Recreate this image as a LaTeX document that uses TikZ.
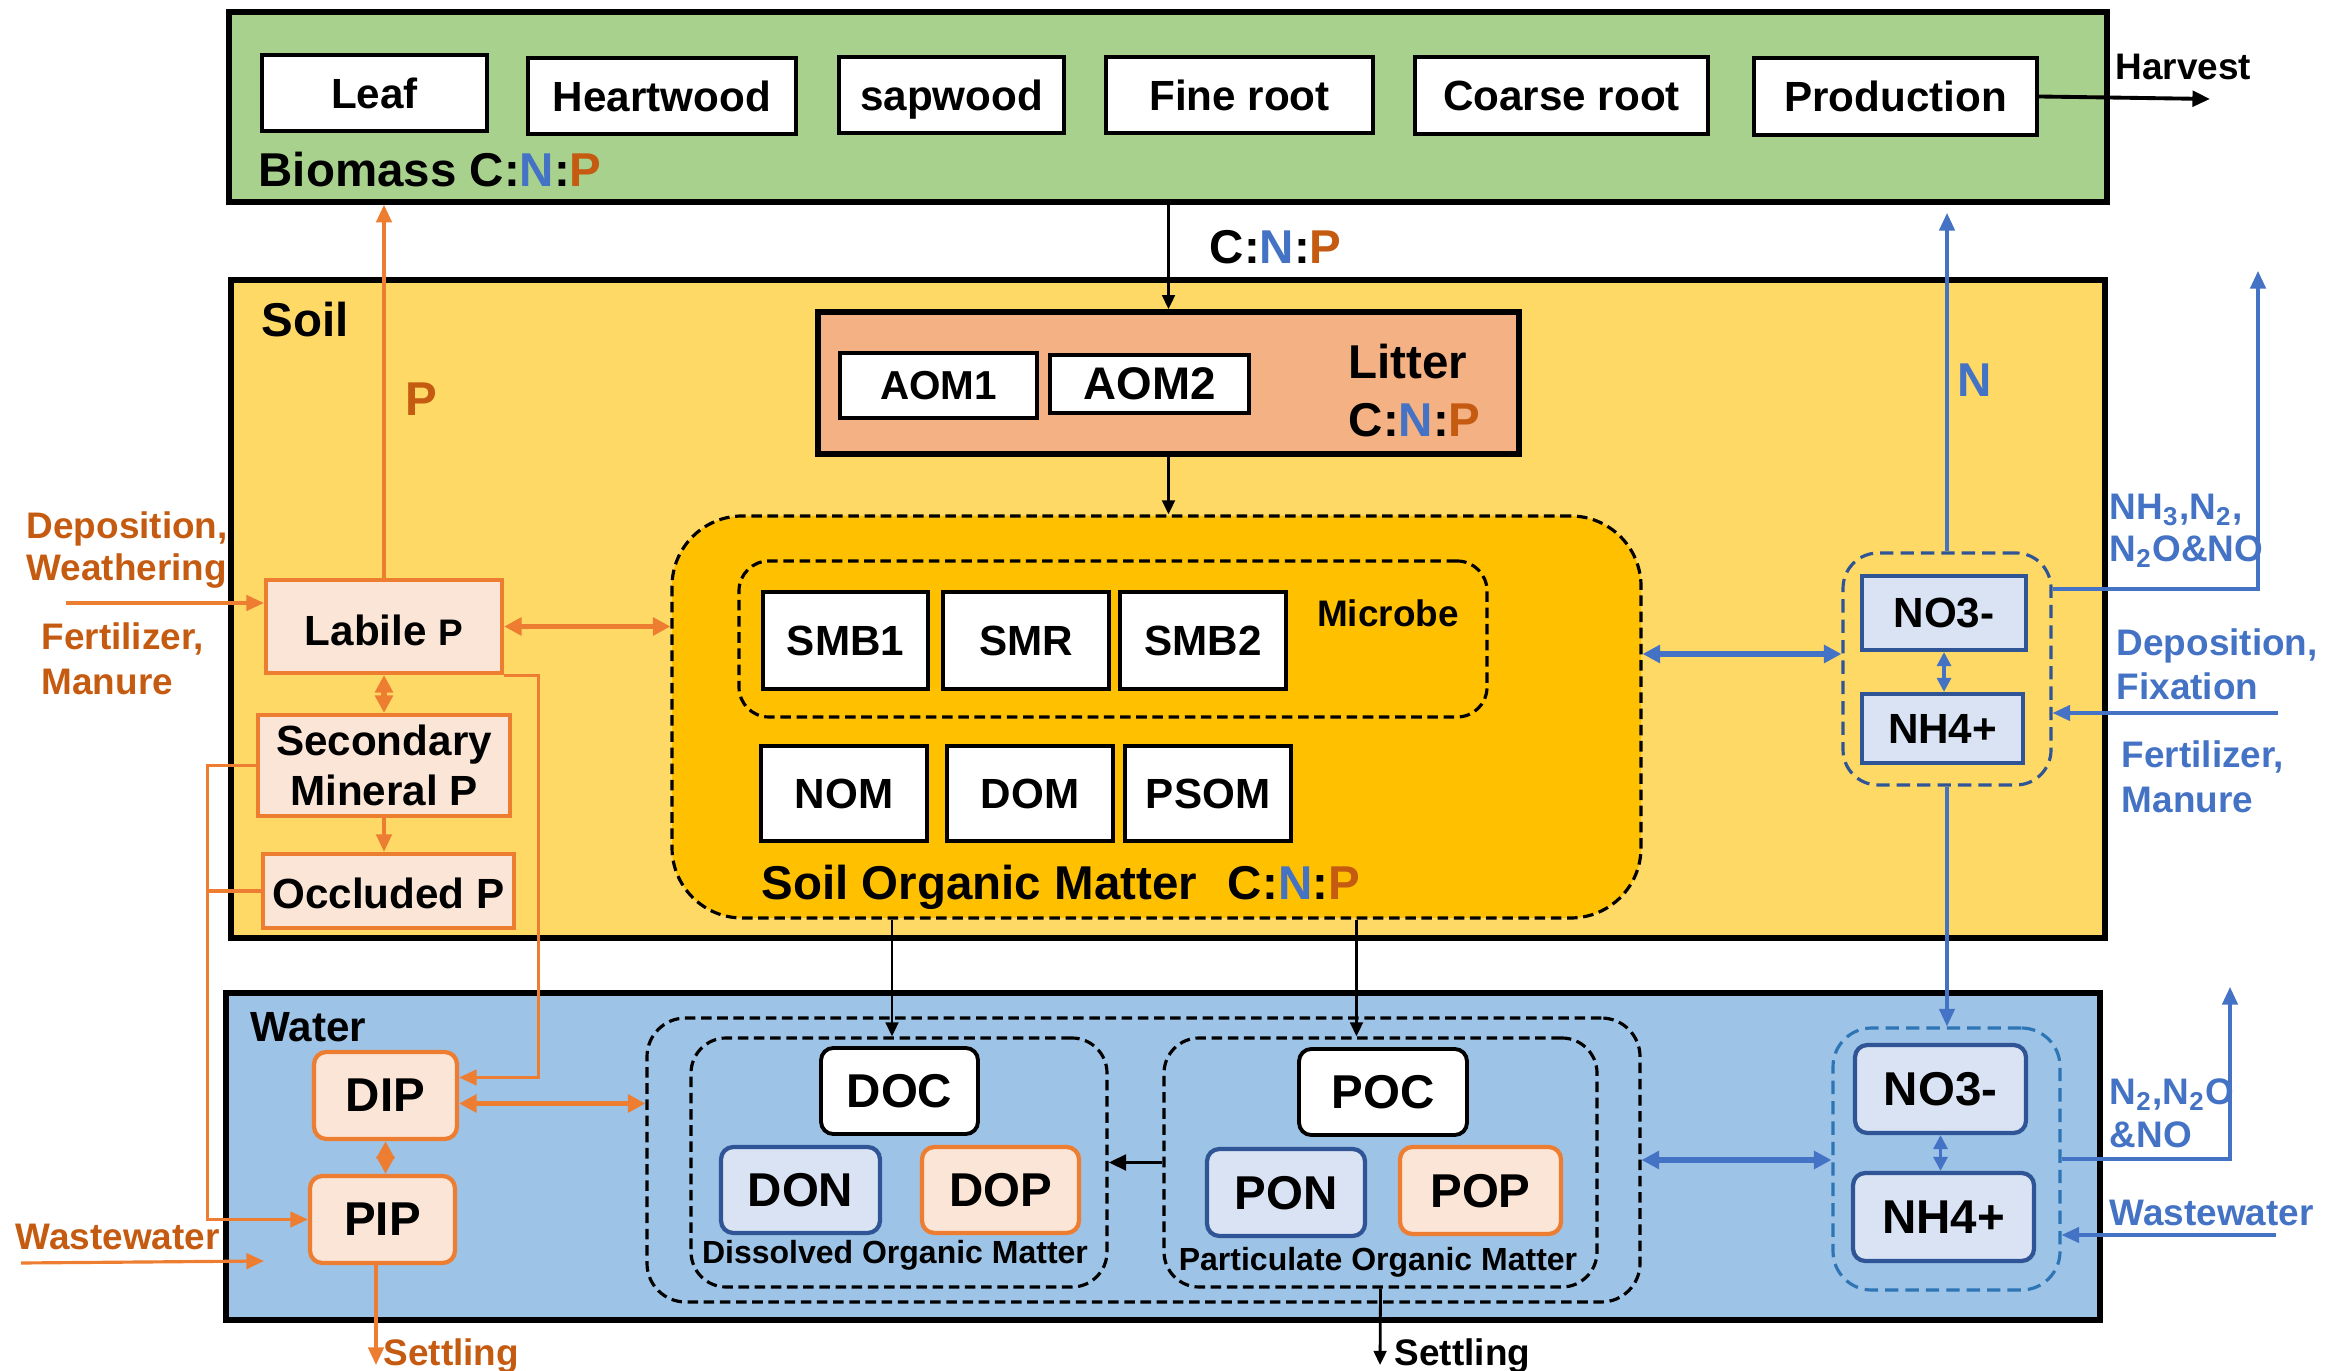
\documentclass[tikz,border=0pt]{standalone}
\usepackage{fontspec}
\setmainfont{Liberation Sans}
\usetikzlibrary{arrows.meta,calc}

\definecolor{bmgreen}{HTML}{A9D18E}
\definecolor{soilyel}{HTML}{FFD966}
\definecolor{somgold}{HTML}{FFC000}
\definecolor{littercol}{HTML}{F4B183}
\definecolor{waterblue}{HTML}{9DC3E6}
\definecolor{pline}{HTML}{ED7D31}
\definecolor{ptext}{HTML}{C55A11}
\definecolor{nline}{HTML}{4472C4}
\definecolor{ndark}{HTML}{2F5597}
\definecolor{nfill}{HTML}{DAE3F3}
\definecolor{pfill}{HTML}{FBE5D6}
\definecolor{nwdash}{HTML}{2E75B6}

\newcommand\fsz[2]{\fontsize{#1}{#2}\selectfont}
\newcommand\cnp{C:\textcolor{nline}{N}:\textcolor{ptext}{P}}

\tikzset{
  every node/.style={font=\bfseries},
  % rectangle given by its two corners (x1,y1,x2,y2) in picture units
  boxat/.style n args={4}{minimum width={(#3-#1)*0.01cm}, minimum height={(#4-#2)*0.01cm},
    at={({(#1+#3)/2},{(#2+#4)/2})}},
  region/.style={draw=black, line width=1.6pt, inner sep=0pt},
  wbox/.style={draw=black, fill=white, line width=1.1pt, inner sep=0pt, text depth=0pt, font=\bfseries\fsz{12}{14}},
  pbox/.style={draw=pline, fill=pfill, line width=1.2pt, inner sep=0pt, text depth=0pt, font=\bfseries\fsz{12}{14}},
  nbox/.style={draw=ndark, fill=nfill, line width=1.2pt, inner sep=0pt, text depth=0pt, font=\bfseries\fsz{12}{14}},
  dbox/.style={draw=black, line width=0.9pt, dash pattern=on 3pt off 1.6pt, inner sep=0pt},
  ndbox/.style={line width=0.9pt, dash pattern=on 3.8pt off 2pt, inner sep=0pt},
  lbl/.style={inner sep=0pt, anchor=west},
  big/.style={font=\bfseries\fsz{13.5}{16}},
  mid/.style={font=\bfseries\fsz{10.5}{12.4}},
  blkarr/.style={draw=black, line width=0.8pt, -{Triangle[length=4pt,width=3.6pt]}},
  blkthick/.style={draw=black, line width=1.1pt, -{Triangle[length=5pt,width=4.4pt]}},
  orarr/.style={draw=pline, line width=0.9pt, -{Triangle[length=5pt,width=4.4pt]}},
  ordbl/.style={draw=pline, line width=1.5pt, {Triangle[length=5pt,width=5pt]}-{Triangle[length=5pt,width=5pt]}},
  blarr/.style={draw=nline, line width=0.9pt, -{Triangle[length=5pt,width=4.4pt]}},
  bldbl/.style={draw=nline, line width=1.5pt, {Triangle[length=5pt,width=5pt]}-{Triangle[length=5pt,width=5pt]}},
  blthin/.style={draw=nline, line width=0.9pt, {Triangle[length=4pt,width=4pt]}-{Triangle[length=4pt,width=4pt]}},
}

\begin{document}
\begin{tikzpicture}[x=0.01cm,y=-0.01cm]
\useasboundingbox (0,0) rectangle (2346,1371);

% ---------- compartments ----------
\node[region, fill=bmgreen, boxat={229}{12}{2107}{202}] (biomass) {};
\node[region, fill=soilyel, boxat={231}{280}{2105}{938}] (soil) {};
\node[region, fill=waterblue, boxat={226}{993}{2100}{1320}] (water) {};

% ---------- biomass pools ----------
\node[wbox, boxat={262}{55}{487}{131}] (leaf) {Leaf};
\node[wbox, boxat={528}{58}{796}{134}] (heart) {Heartwood};
\node[wbox, boxat={839}{57}{1064}{133}] (sap) {sapwood};
\node[wbox, boxat={1106}{57}{1373}{133}] (fine) {Fine root};
\node[wbox, boxat={1415}{57}{1708}{134}] (coarse) {Coarse root};
\node[wbox, boxat={1754}{58}{2037}{135}] (prod) {Production};
\node[lbl, big] at (258,170) {Biomass \cnp};
\node[lbl, mid] at (2115,67) {Harvest};
\coordinate (harvest) at (2210,99);

\node[lbl, big] at (1209,247) {\cnp};

% ---------- soil ----------
\node[lbl, big] at (261,320) {Soil};

\node[region, fill=littercol, boxat={818}{312}{1519}{454}] (litter) {};
\node[wbox, font=\bfseries\fsz{11.5}{14}, boxat={840}{353}{1037}{418}] (aom1) {AOM1};
\node[wbox, font=\bfseries\fsz{13}{15}, boxat={1050}{355}{1249}{413}] (aom2) {AOM2};
\node[lbl, big] at (1348,362) {Litter};
\node[lbl, big] at (1348,420) {\cnp};

\node[dbox, fill=somgold, rounded corners=20pt, boxat={672}{516}{1641}{918}] (som) {};
\node[dbox, rounded corners=8.5pt, boxat={739}{561}{1487}{717}] (microbe) {};
\node[wbox, boxat={763}{592}{928}{689}] (smb1) {SMB1};
\node[wbox, boxat={943}{592}{1109}{689}] (smr) {SMR};
\node[wbox, boxat={1120}{592}{1286}{689}] (smb2) {SMB2};
\node[mid, inner sep=0pt] at (1388,613) {Microbe};
\node[wbox, boxat={761}{746}{927}{841}] (nom) {NOM};
\node[wbox, boxat={947}{746}{1113}{841}] (dom) {DOM};
\node[wbox, boxat={1125}{746}{1291}{841}] (psom) {PSOM};
\node[lbl, big] at (761,887) {Soil Organic Matter\hspace{8.8pt}\cnp};

\node[pbox, boxat={266}{580}{502}{673}] (labile) {\raisebox{-2pt}{Labile {\fsz{10.5}{12}P}}};
\node[pbox, align=center, font=\bfseries\fsz{12}{14.2}, boxat={258}{715}{510}{816}] (secondary) {Secondary\\Mineral P};
\node[pbox, boxat={263}{854}{514}{928}] (occluded) {\raisebox{-1pt}{Occluded P}};
\node[inner sep=0pt, big, text=ptext] at (421,399) {P};
\node[lbl, text=ptext, align=left, font=\bfseries\fsz{10.5}{12.2}] at (26,550) {Deposition,\\Weathering};
\node[lbl, text=ptext, align=left, font=\bfseries\fsz{10.5}{12.8}] at (41,659) {Fertilizer,\\Manure};
\coordinate (depin) at (66,603);

\node[ndbox, draw=ndark, rounded corners=10pt, boxat={1843}{553}{2051}{785}] (nsbox) {};
\node[nbox, boxat={1862}{576}{2026}{650}] (no3s) {NO3-};
\node[nbox, boxat={1862}{694}{2023}{763}] (nh4s) {NH4+};
\node[inner sep=0pt, big, text=nline] at (1975,380) {N};
\node[lbl, text=nline, align=left, font=\bfseries\fsz{10.5}{12}] at (2109,531) {NH\textsubscript{3},N\textsubscript{2},\\N\textsubscript{2}O\&NO};
\node[lbl, text=nline, align=left, font=\bfseries\fsz{10.5}{12.5}] at (2116,664) {Deposition,\\Fixation};
\node[lbl, text=nline, align=left, font=\bfseries\fsz{10.5}{12.8}] at (2121,777) {Fertilizer,\\Manure};
\coordinate (ntop) at (1947,213);
\coordinate (gastop) at (2258,271);
\coordinate (depfix) at (2278,713);

% ---------- water ----------
\node[lbl, font=\bfseries\fsz{12}{14}] at (250,1027) {Water};
\node[pbox, rounded corners=3.5pt, font=\bfseries\fsz{13.5}{16}, boxat={314}{1052}{457}{1139}] (dip) {DIP};
\node[pbox, rounded corners=3.5pt, font=\bfseries\fsz{13.5}{16}, boxat={310}{1176}{455}{1263}] (pip) {PIP};
\node[lbl, mid, text=ptext] at (15,1237) {Wastewater};
\coordinate (wwl1) at (21,1263);
\coordinate (wwl2) at (264,1261);
\node[lbl, mid, text=ptext] at (383,1356) {Settling};
\coordinate (settlep) at (376,1365);

\node[dbox, rounded corners=11pt, boxat={647}{1018}{1640}{1302}] (omall) {};
\node[dbox, rounded corners=10pt, boxat={691}{1038}{1107}{1287}] (domin) {};
\node[dbox, rounded corners=10pt, boxat={1164}{1038}{1597}{1287}] (pomin) {};
\node[wbox, rounded corners=3.5pt, font=\bfseries\fsz{13.5}{16}, boxat={821}{1048}{978}{1134}] (doc) {DOC};
\node[nbox, rounded corners=3.5pt, font=\bfseries\fsz{13.5}{16}, boxat={721}{1147}{880}{1233}] (don) {DON};
\node[pbox, rounded corners=3.5pt, font=\bfseries\fsz{13.5}{16}, boxat={922}{1147}{1079}{1233}] (dop) {DOP};
\node[wbox, rounded corners=3.5pt, font=\bfseries\fsz{13.5}{16}, boxat={1299}{1049}{1467}{1135}] (poc) {POC};
\node[nbox, rounded corners=3.5pt, font=\bfseries\fsz{13.5}{16}, boxat={1207}{1149}{1365}{1236}] (pon) {PON};
\node[pbox, rounded corners=3.5pt, font=\bfseries\fsz{13.5}{16}, boxat={1400}{1147}{1561}{1234}] (pop) {POP};
\node[inner sep=0pt, font=\bfseries\fsz{9.1}{11}] at (895,1255) {Dissolved Organic Matter};
\node[inner sep=0pt, font=\bfseries\fsz{9.1}{11}] at (1378,1262) {Particulate Organic Matter};
\node[lbl, mid] at (1394,1356) {Settling};
\coordinate (settlepom) at (1380,1365);

\node[ndbox, draw=nwdash, rounded corners=11pt, boxat={1833}{1028}{2060}{1290}] (nwbox) {};
\node[nbox, rounded corners=3.5pt, font=\bfseries\fsz{13.5}{16}, boxat={1855}{1045}{2026}{1133}] (no3w) {NO3-};
\node[nbox, rounded corners=3.5pt, font=\bfseries\fsz{13.5}{16}, boxat={1853}{1173}{2034}{1261}] (nh4w) {NH4+};
\node[lbl, text=nline, align=left, font=\bfseries\fsz{10.5}{12.2}] at (2109,1113) {N\textsubscript{2},N\textsubscript{2}O\\\&NO};
\node[lbl, mid, text=nline] at (2109,1213) {Wastewater};
\coordinate (wwr) at (2276,1235);
\coordinate (n2top) at (2230,987);

% ---------- carbon / bulk fluxes ----------
\draw[blkthick] (prod.east) -- (harvest);
\draw[blkarr] (biomass.south -| litter.north) -- (litter.north);
\draw[blkarr] (litter.south) -- (litter.south |- som.north);
\coordinate (domtop) at ($(domin.north)+(-7,0)$);
\draw[blkarr] (domtop |- som.south) -- (domtop);
\coordinate (pomtop) at ($(pomin.north)+(-24,0)$);
\draw[blkarr] (pomtop |- som.south) -- (pomtop);
\draw[blkthick] (pomin.west) -- (domin.east);
\draw[blkarr] (pomin.south) -- (settlepom);

% ---------- phosphorus fluxes ----------
\draw[orarr] (labile.north) -- (labile.north |- biomass.south);
\draw[ordbl] (labile.south) -- (labile.south |- secondary.north);
\draw[orarr] (secondary.south) -- (secondary.south |- occluded.north);
\draw[ordbl] (labile.east) -- (labile.east -| som.west);
\draw[orarr] (depin) -- (depin -| labile.west);
\draw[orarr] (labile.south east) -- ++(34,0) |- ($(dip.east)+(0,-18)$);
\coordinate (pcol) at ($(pip.west)+(-100,0)$);
\draw[orarr] (secondary.west) -| (pcol) -- (pip.west);
\draw[draw=pline, line width=0.9pt] (occluded.west) -- (occluded.west -| pcol);
\draw[ordbl] (dip.south) -- (dip.south |- pip.north);
\coordinate (dipr) at ($(dip.east)+(0,8)$);
\draw[ordbl] (dipr) -- (dipr -| omall.west);
\draw[orarr] (wwl1) -- (wwl2);
\draw[orarr] (pip.south -| settlep) -- (settlep);

% ---------- nitrogen fluxes ----------
\draw[blarr] (nsbox.north) -- (ntop);
\draw[blthin] (no3s.south) -- (no3s.south |- nh4s.north);
\coordinate (somn) at ($(som.east)+(0,-63)$);
\draw[bldbl] (somn) -- (somn -| nsbox.west);
\draw[blarr] ($(nsbox.east)+(0,-80)$) -| (gastop);
\draw[blarr] (depfix) -- (depfix -| nsbox.east);
\draw[blarr] (nsbox.south) -- (nsbox.south |- nwbox.north);
\draw[bldbl] (omall.east) -- (omall.east -| nwbox.west);
\draw[blthin] (no3w.south) -- (no3w.south |- nh4w.north);
\draw[blarr] (nwbox.east) -| (n2top);
\draw[blarr] (wwr) -- (wwr -| nwbox.east);
\end{tikzpicture}
\end{document}
